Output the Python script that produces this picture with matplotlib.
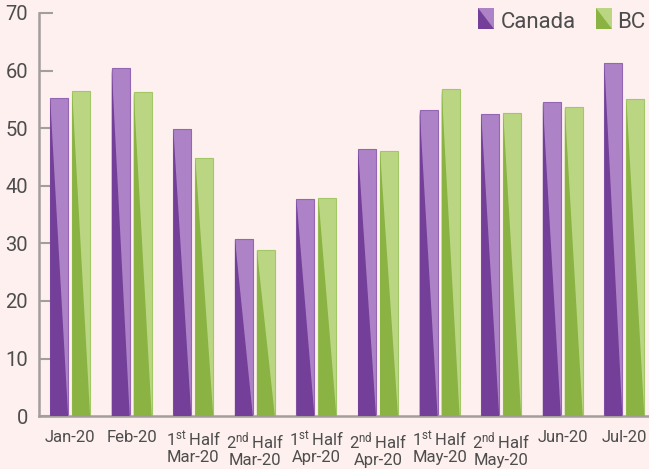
import matplotlib
matplotlib.use("Agg")
import matplotlib.pyplot as plt
from matplotlib.patches import Polygon, Rectangle

FONT = 'Roboto'
plt.rcParams['font.family'] = [FONT, 'DejaVu Sans']
plt.rcParams['mathtext.fontset'] = 'custom'
plt.rcParams['mathtext.rm'] = FONT
plt.rcParams['mathtext.it'] = FONT
plt.rcParams['mathtext.bf'] = FONT

categories = ["Jan-20", "Feb-20", r"1$^{\mathrm{st}}\,$Half" "\nMar-20",
              r"2$^{\mathrm{nd}}\,$Half" "\nMar-20", r"1$^{\mathrm{st}}\,$Half" "\nApr-20",
              r"2$^{\mathrm{nd}}\,$Half" "\nApr-20", r"1$^{\mathrm{st}}\,$Half" "\nMay-20",
              r"2$^{\mathrm{nd}}\,$Half" "\nMay-20", "Jun-20", "Jul-20"]
canada = [55.2, 60.4, 49.9, 30.8, 37.7, 46.4, 53.2, 52.5, 54.5, 61.3]
bc = [56.5, 56.3, 44.8, 28.9, 37.9, 46.0, 56.8, 52.6, 53.7, 55.1]
series_names = ["Canada", "BC"]
yticks = [0, 10, 20, 30, 40, 50, 60, 70]

BG = '#fdf0ee'
light = {'Canada': '#ae82c7', 'BC': '#bbd683'}
dark = {'Canada': '#733f98', 'BC': '#8ab343'}
edge = {'Canada': '#9466b4', 'BC': '#a3c766'}
TXT = '#4d4d4d'
AX = '#a39d9b'

fig = plt.figure(figsize=(6.49, 4.69), dpi=100, facecolor=BG)
ax = fig.add_axes([0.0606, 0.1126, 0.9394, 0.8597])
ax.set_facecolor(BG)

w = 0.292
gap = 0.065
offsets = [-(w + gap) / 2, (w + gap) / 2]
for name, vals, off in zip(series_names, [canada, bc], offsets):
    for i, v in enumerate(vals):
        x0 = i + off - w / 2
        x1 = i + off + w / 2
        ax.bar(i + off, v, width=w, color=light[name], edgecolor=edge[name],
               linewidth=0.8, zorder=2)
        ax.add_patch(Polygon([(x0, 0), (x1, 0), (x0, v)], closed=True,
                             facecolor=dark[name], edgecolor='none', zorder=3))

ax.set_xlim(-0.5, 9.4)
ax.set_ylim(0, 70)
ax.set_yticks(yticks)
ax.set_xticks(range(len(categories)))
ax.set_xticklabels(categories, fontsize=12, color=TXT, linespacing=1.05)
ax.tick_params(axis='x', length=0, pad=10)
ax.tick_params(axis='y', direction='in', length=10, width=1.5, color=AX,
               labelsize=14.5, labelcolor=TXT, pad=8)
for s in ['top', 'right']:
    ax.spines[s].set_visible(False)
for s in ['left', 'bottom']:
    ax.spines[s].set_color(AX)
    ax.spines[s].set_linewidth(1.8)

# legend drawn manually in figure pixel space
def legend_item(px, name, tx):
    W, H = 649.0, 469.0
    x0, x1 = px / W, (px + 16) / W
    y1, y0 = 1 - 8 / H, 1 - 29 / H
    fig.patches.append(Rectangle((x0, y0), x1 - x0, y1 - y0, transform=fig.transFigure,
                                 facecolor=light[name], edgecolor='none'))
    fig.patches.append(Polygon([(x0, y0), (x1, y0), (x0, y1)], closed=True,
                               transform=fig.transFigure, facecolor=dark[name],
                               edgecolor='none'))
    fig.text(tx / W, 1 - 28 / H, name, fontsize=16, color=TXT, ha='left', va='baseline')

legend_item(478, 'Canada', 501)
legend_item(596, 'BC', 617)

fig.savefig('out.png', dpi=100, facecolor=BG)
